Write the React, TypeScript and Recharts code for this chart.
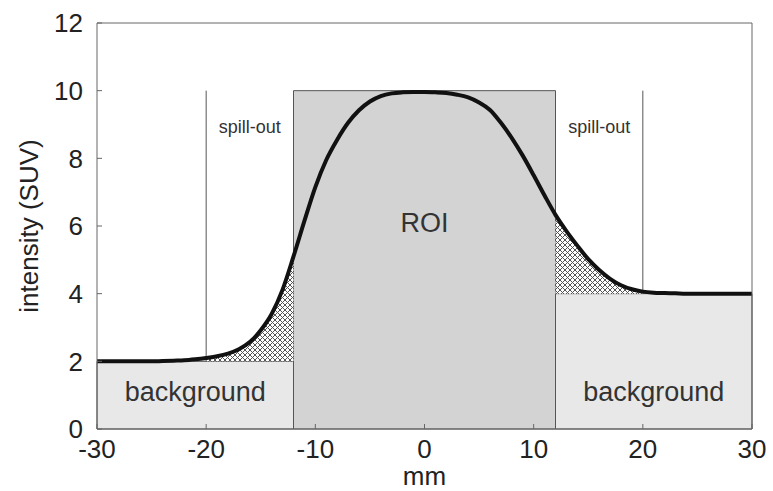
import {
  Area,
  ComposedChart,
  Line,
  ReferenceArea,
  ReferenceDot,
  ReferenceLine,
  XAxis,
  YAxis,
} from 'recharts';

// Position along the profile (mm) and the blurred intensity
const MM = [
  -30, -29, -28, -27, -26, -25, -24, -23, -22, -21, -20, -19, -18, -17, -16, -15, -14, -13, -12, -11,
  -10, -9, -8, -7, -6, -5, -4, -3, -2, -1, 0, 1, 2, 3, 4, 5, 6, 7, 8, 9, 10, 11, 12, 13, 14, 15, 16,
  17, 18, 19, 20, 21, 22, 23, 24, 25, 26, 27, 28, 29, 30,
];
const INTENSITY = [
  2.0, 2.0, 2.0, 2.0, 2.0, 2.0, 2.01, 2.02, 2.03, 2.06, 2.1, 2.15, 2.23, 2.36, 2.57, 2.92, 3.4, 4.12,
  5.1, 6.15, 7.15, 7.95, 8.55, 9.05, 9.42, 9.68, 9.84, 9.92, 9.95, 9.96, 9.96, 9.95, 9.93, 9.88, 9.8,
  9.65, 9.43, 9.05, 8.6, 8.08, 7.5, 6.9, 6.33, 5.85, 5.42, 5.02, 4.7, 4.44, 4.25, 4.13, 4.06, 4.03,
  4.02, 4.01, 4.0, 4.0, 4.0, 4.0, 4.0, 4.0, 4.0,
];

const X_TICKS = [-30, -20, -10, 0, 10, 20, 30];
const Y_TICKS = [0, 2, 4, 6, 8, 10, 12];

// true activity: background left/right, ROI in the middle
const LEFT_BG = { from: -30, to: -12, level: 2 };
const ROI = { from: -12, to: 12, level: 10 };
const RIGHT_BG = { from: 12, to: 30, level: 4 };
// spill-out zones (hatched between curve and background level)
const SPILL_LEFT = { from: -20, to: -12 };
const SPILL_RIGHT = { from: 12, to: 20 };

const NOTES = [
  { text: 'ROI', mm: 0, value: 6.1, size: 27 },
  { text: 'spill-out', mm: -16, value: 8.95, size: 18 },
  { text: 'spill-out', mm: 16, value: 8.95, size: 18 },
  { text: 'background', mm: -21, value: 1.1, size: 27 },
  { text: 'background', mm: 21, value: 1.1, size: 27 },
];

const FONT = '"Liberation Sans", Arial, Helvetica, sans-serif';
const INK = '#222';
const FRAME = '#666';

const rows = MM.map((mm, i) => ({
  mm,
  intensity: INTENSITY[i],
  hatchLeft:
    mm >= SPILL_LEFT.from && mm <= SPILL_LEFT.to ? [LEFT_BG.level, INTENSITY[i]] : null,
  hatchRight:
    mm >= SPILL_RIGHT.from && mm <= SPILL_RIGHT.to ? [RIGHT_BG.level, INTENSITY[i]] : null,
}));

const tickStyle = { fill: INK, fontSize: 26, fontFamily: FONT };

export default function App() {
  return (
    <div style={{ position: 'absolute', left: 0, top: 0, width: 773, height: 491, background: '#fff' }}>
      <ComposedChart
        width={773}
        height={491}
        data={rows}
        margin={{ top: 22, right: 20, bottom: 0, left: 0 }}
      >
        <defs>
          <pattern id="xhatch" patternUnits="userSpaceOnUse" width={5} height={5}>
            <rect width={5} height={5} fill="#fff" />
            <path d="M0,0 L5,5 M5,0 L0,5" stroke="#555" strokeWidth={1} />
          </pattern>
        </defs>
        <XAxis
          dataKey="mm"
          type="number"
          domain={[-30, 30]}
          ticks={X_TICKS}
          allowDataOverflow
          height={62}
          stroke={FRAME}
          tickSize={-5}
          tickMargin={16}
          tick={tickStyle}
          label={{
            content: ({ viewBox }: any) => (
              <text
                x={viewBox.x + viewBox.width / 2}
                y={viewBox.y + 56}
                textAnchor="middle"
                fill={INK}
                fontSize={26}
                fontFamily={FONT}
              >
                mm
              </text>
            ),
          }}
        />
        <XAxis
          xAxisId="top"
          dataKey="mm"
          type="number"
          orientation="top"
          domain={[-30, 30]}
          ticks={X_TICKS}
          height={1}
          stroke={FRAME}
          tickSize={-5}
          tick={false}
        />
        <YAxis
          type="number"
          domain={[0, 12]}
          ticks={Y_TICKS}
          allowDataOverflow
          width={97}
          stroke={FRAME}
          tickSize={-5}
          tickMargin={19}
          tick={tickStyle}
          label={{
            content: ({ viewBox }: any) => {
              const cx = viewBox.x + 38;
              const cy = viewBox.y + viewBox.height / 2;
              return (
                <text
                  x={cx}
                  y={cy}
                  transform={`rotate(-90 ${cx} ${cy})`}
                  textAnchor="middle"
                  fill={INK}
                  fontSize={26}
                  fontFamily={FONT}
                >
                  intensity (SUV)
                </text>
              );
            },
          }}
        />
        <YAxis
          yAxisId="right"
          orientation="right"
          type="number"
          domain={[0, 12]}
          ticks={Y_TICKS}
          width={1}
          stroke={FRAME}
          tickSize={-5}
          tick={false}
        />

        <ReferenceArea
          x1={LEFT_BG.from}
          x2={LEFT_BG.to}
          y1={0}
          y2={LEFT_BG.level}
          fill="#e8e8e8"
          fillOpacity={1}
          stroke="#555"
        />
        <ReferenceArea
          x1={RIGHT_BG.from}
          x2={RIGHT_BG.to}
          y1={0}
          y2={RIGHT_BG.level}
          fill="#e8e8e8"
          fillOpacity={1}
          stroke="#555"
        />
        <ReferenceArea
          x1={ROI.from}
          x2={ROI.to}
          y1={0}
          y2={ROI.level}
          fill="#d3d3d3"
          fillOpacity={1}
          stroke="#555"
        />

        <Area
          dataKey="hatchLeft"
          type="monotone"
          fill="url(#xhatch)"
          fillOpacity={1}
          stroke="none"
          isAnimationActive={false}
        />
        <Area
          dataKey="hatchRight"
          type="monotone"
          fill="url(#xhatch)"
          fillOpacity={1}
          stroke="none"
          isAnimationActive={false}
        />

        <ReferenceLine
          segment={[
            { x: SPILL_LEFT.from, y: LEFT_BG.level },
            { x: SPILL_LEFT.from, y: ROI.level },
          ]}
          stroke="#555"
        />
        <ReferenceLine
          segment={[
            { x: SPILL_RIGHT.to, y: RIGHT_BG.level },
            { x: SPILL_RIGHT.to, y: ROI.level },
          ]}
          stroke="#555"
        />

        {NOTES.map((n, i) => (
          <ReferenceDot
            key={i}
            x={n.mm}
            y={n.value}
            r={0}
            fill="none"
            stroke="none"
            label={{
              value: n.text,
              position: 'center',
              fill: '#333',
              fontSize: n.size,
              fontFamily: FONT,
            }}
          />
        ))}

        <Line
          dataKey="intensity"
          type="monotone"
          stroke="#111"
          strokeWidth={4}
          dot={false}
          activeDot={false}
          isAnimationActive={false}
        />
      </ComposedChart>
    </div>
  );
}
